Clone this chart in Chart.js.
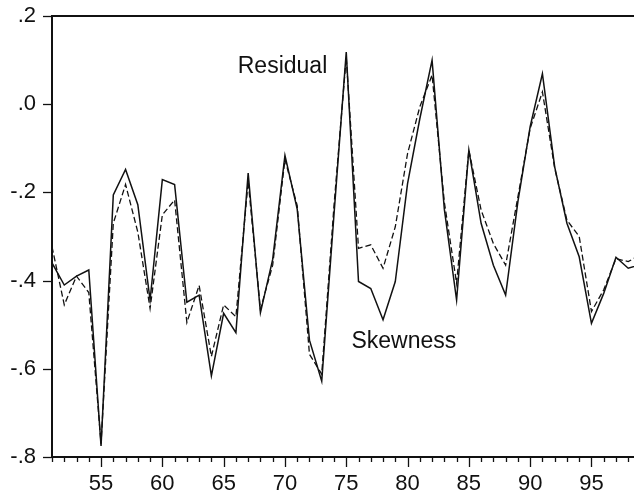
<!DOCTYPE html>
<html>
<head>
<meta charset="utf-8">
<script src="https://cdn.jsdelivr.net/npm/chart.js@4.4.1/dist/chart.umd.min.js"></script>
<style>
  html, body { margin: 0; padding: 0; background: #fff; }
</style>
</head>
<body>
<canvas id="grafico" width="634" height="498"></canvas>
<script>
// anos (eixo x) e as duas séries
const anos = [51, 52, 53, 54, 55, 56, 57, 58, 59, 60, 61, 62, 63, 64, 65, 66, 67, 68, 69, 70,
  71, 72, 73, 74, 75, 76, 77, 78, 79, 80, 81, 82, 83, 84, 85, 86, 87, 88, 89, 90,
  91, 92, 93, 94, 95, 96, 97, 98, 99];
const residual = [-0.36, -0.41, -0.39, -0.376, -0.775, -0.206, -0.148, -0.228, -0.444, -0.171,
  -0.182, -0.449, -0.433, -0.616, -0.474, -0.518, -0.156, -0.473, -0.352, -0.116,
  -0.238, -0.535, -0.628, -0.25, 0.118, -0.402, -0.418, -0.489, -0.402, -0.18,
  -0.033, 0.100, -0.238, -0.444, -0.104, -0.27, -0.365, -0.433, -0.221, -0.051,
  0.069, -0.142, -0.27, -0.346, -0.497, -0.429, -0.347, -0.372, -0.364];
const skewness = [-0.323, -0.455, -0.39, -0.427, -0.77, -0.27, -0.182, -0.29, -0.463, -0.251,
  -0.217, -0.495, -0.411, -0.572, -0.455, -0.482, -0.175, -0.465, -0.365, -0.125,
  -0.23, -0.567, -0.612, -0.23, 0.107, -0.327, -0.319, -0.372, -0.278, -0.112,
  -0.006, 0.066, -0.222, -0.406, -0.104, -0.24, -0.316, -0.365, -0.21, -0.055,
  0.028, -0.145, -0.263, -0.300, -0.470, -0.421, -0.350, -0.357, -0.341];
const ticksY = [-0.8, -0.6, -0.4, -0.2, 0, 0.2];
const nomes = ['Residual', 'Skewness'];
// onde ficam os rótulos das séries (em unidades do gráfico)
const posRotulos = [[69.8, 0.084], [79.7, -0.539]];

const FONTE = '"Liberation Sans", Arial, sans-serif';
const COR = '#111';

function fmtY(v) {
  if (Math.abs(v) < 1e-9) return '.0';
  return (v < 0 ? '-' : '') + '.' + Math.round(Math.abs(v) * 10);
}

function semPadding(s) {
  s.paddingLeft = 0; s.paddingRight = 0;
  s.paddingTop = 0; s.paddingBottom = 0;
}

const marcas = {
  id: 'marcas',
  afterDraw(chart) {
    const ctx = chart.ctx;
    const area = chart.chartArea;
    const sx = chart.scales.x;
    const sy = chart.scales.y;
    ctx.save();
    ctx.strokeStyle = COR;

    // borda superior
    ctx.lineWidth = 2;
    ctx.beginPath();
    ctx.moveTo(area.left - 1, area.top);
    ctx.lineTo(area.right, area.top);
    ctx.stroke();

    // marcas do eixo y
    ctx.lineWidth = 1.3;
    ticksY.forEach(v => {
      const y = Math.round(sy.getPixelForValue(v)) + 0.5;
      ctx.beginPath();
      ctx.moveTo(area.left - 9, y);
      ctx.lineTo(area.left, y);
      ctx.stroke();
    });

    // marcas do eixo x: uma por ano, maiores a cada 5
    for (let a = Math.ceil(sx.min); a <= sx.max; a++) {
      const x = Math.round(sx.getPixelForValue(a)) + 0.5;
      const len = a % 5 === 0 ? 10 : 5;
      ctx.beginPath();
      ctx.moveTo(x, area.bottom);
      ctx.lineTo(x, area.bottom + len);
      ctx.stroke();
    }

    // rótulos das séries
    ctx.fillStyle = COR;
    ctx.font = '23px ' + FONTE;
    ctx.textAlign = 'center';
    ctx.textBaseline = 'middle';
    nomes.forEach((n, i) => {
      const [px, py] = posRotulos[i];
      ctx.fillText(n, sx.getPixelForValue(px), sy.getPixelForValue(py));
    });
    ctx.restore();
  }
};

new Chart(document.getElementById('grafico').getContext('2d'), {
  type: 'line',
  data: {
    datasets: [
      {
        label: nomes[0],
        data: anos.map((a, i) => ({ x: a, y: residual[i] })),
        borderColor: COR,
        borderWidth: 1.5,
        pointRadius: 0,
        tension: 0
      },
      {
        label: nomes[1],
        data: anos.map((a, i) => ({ x: a, y: skewness[i] })),
        borderColor: COR,
        borderWidth: 1.3,
        borderDash: [6, 3],
        pointRadius: 0,
        tension: 0
      }
    ]
  },
  plugins: [marcas],
  options: {
    responsive: false,
    animation: false,
    devicePixelRatio: 1,
    layout: { padding: { top: 16, right: 0, left: 0, bottom: 0 } },
    plugins: { legend: { display: false }, tooltip: { enabled: false } },
    scales: {
      x: {
        type: 'linear',
        min: 51,
        max: 98.47,
        afterFit: s => { s.height = 41; semPadding(s); },
        grid: { display: false, drawTicks: false },
        border: { display: true, color: COR, width: 2 },
        ticks: {
          stepSize: 1,
          autoSkip: false,
          maxRotation: 0,
          padding: 14,
          color: COR,
          font: { family: FONTE, size: 22 },
          callback: v => (Number.isInteger(v) && v % 5 === 0) ? String(v) : ''
        }
      },
      y: {
        min: -0.8,
        max: 0.2,
        afterFit: s => { s.width = 52; semPadding(s); },
        grid: { display: false, drawTicks: false },
        border: { display: true, color: COR, width: 2 },
        afterBuildTicks: s => { s.ticks = ticksY.map(v => ({ value: v })); },
        ticks: {
          padding: 16,
          color: COR,
          font: { family: FONTE, size: 22 },
          callback: v => fmtY(v)
        }
      }
    }
  }
});
</script>
</body>
</html>
